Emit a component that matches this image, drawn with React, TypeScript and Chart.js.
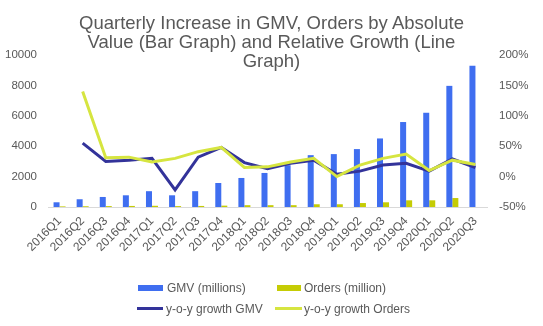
import React, { useEffect, useRef } from "react";
import { Chart, registerables } from "chart.js";

Chart.register(...registerables);

const categories = [
  "2016Q1", "2016Q2", "2016Q3", "2016Q4",
  "2017Q1", "2017Q2", "2017Q3", "2017Q4",
  "2018Q1", "2018Q2", "2018Q3", "2018Q4",
  "2019Q1", "2019Q2", "2019Q3", "2019Q4",
  "2020Q1", "2020Q2", "2020Q3",
];
const gmvMillions = [310, 510, 660, 770, 1040, 770, 1040, 1580, 1910, 2240, 2750, 3410, 3480, 3810, 4510, 5590, 6200, 7970, 9290];
const ordersMillion = [40, 50, 60, 70, 80, 60, 70, 90, 120, 120, 120, 180, 180, 260, 310, 440, 440, 590, null];
const gmvGrowth = [null, 55, 25, 27, 30, -22, 32, 48, 23, 13, 22, 27, 4, 9, 19, 22, 9, 29, 15];
const ordersGrowth = [null, 140, 31, 32, 24, 30, 41, 48, 15, 16, 24, 30, 0, 19, 30, 37, 10, 27, 20];

const FONT = "'Liberation Sans', Arial, sans-serif";
const TEXT = "#595959";
const C_GMV = "#3f6ef0";
const C_ORD = "#c5cc05";
const C_GMV_LINE = "#33339a";
const C_ORD_LINE = "#d6e540";

export default function App() {
  const ref = useRef<HTMLCanvasElement>(null);

  useEffect(() => {
    document.body.style.margin = "0";
    const canvas = ref.current!;
    const chart = new Chart(canvas, {
      type: "bar",
      data: {
        labels: categories,
        datasets: [
          {
            type: "line",
            label: "y-o-y growth Orders",
            data: ordersGrowth,
            borderColor: C_ORD_LINE,
            backgroundColor: C_ORD_LINE,
            borderWidth: 3,
            pointRadius: 0,
            tension: 0,
            yAxisID: "y1",
            order: 0,
          } as any,
          {
            type: "line",
            label: "y-o-y growth GMV",
            data: gmvGrowth,
            borderColor: C_GMV_LINE,
            backgroundColor: C_GMV_LINE,
            borderWidth: 3,
            pointRadius: 0,
            tension: 0,
            yAxisID: "y1",
            order: 1,
          } as any,
          {
            type: "bar",
            label: "GMV (millions)",
            data: gmvMillions,
            backgroundColor: C_GMV,
            yAxisID: "y",
            order: 2,
            categoryPercentage: 0.52,
            barPercentage: 1.0,
          } as any,
          {
            type: "bar",
            label: "Orders (million)",
            data: ordersMillion,
            backgroundColor: C_ORD,
            yAxisID: "y",
            order: 2,
            categoryPercentage: 0.52,
            barPercentage: 1.0,
          } as any,
        ],
      },
      options: {
        responsive: false,
        animation: false,
        layout: { padding: { top: 55, left: 0, right: 0, bottom: 0 } },
        plugins: {
          legend: { display: false },
          title: { display: false },
          tooltip: { enabled: false },
        },
        scales: {
          x: {
            grid: { display: false, drawTicks: false },
            border: { display: true, color: "#d9d9d9", width: 1 },
            ticks: {
              autoSkip: false,
              minRotation: 45,
              maxRotation: 45,
              padding: 7,
              color: TEXT,
              font: { family: FONT, size: 12 },
            },
            afterFit: (s: any) => {
              s.height = 119;
            },
          },
          y: {
            position: "left",
            min: 0,
            max: 10000,
            grid: { display: false, drawTicks: false },
            border: { display: false },
            ticks: {
              stepSize: 2000,
              padding: 11,
              color: TEXT,
              font: { family: FONT, size: 11.5 },
              callback: (v: any) => String(v),
            },
            afterFit: (s: any) => {
              s.width = 48;
            },
          },
          y1: {
            position: "right",
            min: -50,
            max: 200,
            grid: { display: false, drawTicks: false },
            border: { display: false },
            ticks: {
              stepSize: 50,
              padding: 12,
              color: TEXT,
              font: { family: FONT, size: 11.5 },
              callback: (v: any) => v + "%",
            },
            afterFit: (s: any) => {
              s.width = 56;
            },
          },
        },
      },
    });
    return () => chart.destroy();
  }, []);

  const textStyle: React.CSSProperties = {
    position: "absolute",
    fontFamily: FONT,
    fontSize: 12,
    lineHeight: "12px",
    color: TEXT,
    whiteSpace: "nowrap",
  };

  return (
    <div style={{ position: "relative", width: 543, height: 326, overflow: "hidden", background: "#fff" }}>
      <canvas ref={ref} width={543} height={326} style={{ width: 543, height: 326, display: "block" }} />
      <div
        style={{
          position: "absolute",
          left: 0,
          top: 13,
          width: 543,
          textAlign: "center",
          fontFamily: FONT,
          fontSize: 18.5,
          lineHeight: "19px",
          color: TEXT,
          pointerEvents: "none",
        }}
      >
        Quarterly Increase in GMV, Orders by Absolute
        <br />
        Value (Bar Graph) and Relative Growth (Line
        <br />
        Graph)
      </div>
      <div style={{ position: "absolute", left: 138, top: 285, width: 25, height: 6, background: C_GMV }} />
      <div style={{ ...textStyle, left: 167, top: 282 }}>GMV (millions)</div>
      <div style={{ position: "absolute", left: 277, top: 285, width: 24, height: 6, background: C_ORD }} />
      <div style={{ ...textStyle, left: 304, top: 282 }}>Orders (million)</div>
      <div style={{ position: "absolute", left: 137, top: 307, width: 26, height: 3, background: C_GMV_LINE }} />
      <div style={{ ...textStyle, left: 166, top: 303 }}>y-o-y growth GMV</div>
      <div style={{ position: "absolute", left: 275, top: 307, width: 27, height: 3, background: C_ORD_LINE }} />
      <div style={{ ...textStyle, left: 304, top: 303 }}>y-o-y growth Orders</div>
    </div>
  );
}
